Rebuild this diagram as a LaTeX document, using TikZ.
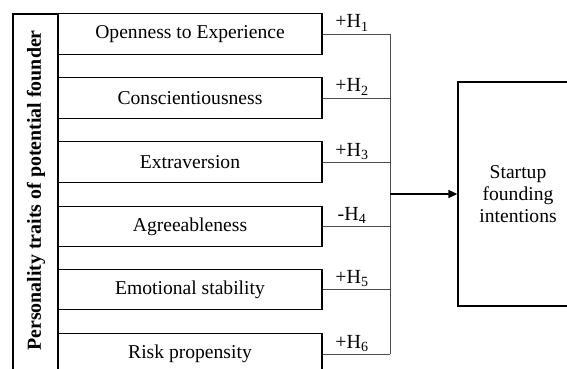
\documentclass[tikz,border=0pt]{standalone}
\usepackage{fontspec}
\setmainfont{Liberation Serif}
\usetikzlibrary{arrows.meta}
\begin{document}
\begin{tikzpicture}[x=1pt,y=-1pt,
  trait/.style={draw=black,line width=1.3pt,minimum width=264pt,minimum height=40.5pt,inner sep=0pt,
    font=\fontsize{19.6}{22}\selectfont},
  bus/.style={draw=black!70,line width=0.9pt},
  hyp/.style={font=\fontsize{20}{22}\selectfont,anchor=base,inner sep=0pt},
  outbox/.style={draw=black,line width=1.3pt,minimum width=120pt,minimum height=224pt,inner sep=0pt,
    align=center,font=\fontsize{19.6}{22}\selectfont},
  mainarrow/.style={draw=black,line width=1.5pt,-{Triangle[length=9pt,width=8pt]}}
]
\useasboundingbox (0,0) rectangle (567,369);
\clip (0,0) rectangle (567,369);
% frame for the vertical title
\draw[line width=1.3pt] (13,380) -- (13,14) -- (58,14) -- (58,380);
\node[rotate=90,inner sep=0pt,font=\fontsize{19.9}{22}\selectfont\bfseries] (title) at (36,190.5) {Personality traits of potential founder};
% trait boxes
\node[trait] (o1) at (190,34) {Openness to Experience};
\node[trait] (o2) at (190,98) {Conscientiousness};
\node[trait] (o3) at (190,162) {Extraversion};
\node[trait] (o4) at (190,226.5) {Agreeableness};
\node[trait] (o5) at (190,289.5) {Emotional stability};
\node[trait] (o6) at (190,354) {Risk propensity};
% outcome
\node[outbox] (sfi) at (518,194) {Startup\\founding\\intentions};
% bus coordinates
\foreach \i in {1,...,6}{
  \coordinate (j\i) at (390,0 |- o\i.east);
  \draw[bus] (o\i.east) -- (j\i);
}
\draw[bus] (j1) -- (j6);
\coordinate (jm) at (390,0 |- sfi.west);
\draw[mainarrow] (jm) -- (sfi.west);
% hypothesis labels
\node[hyp] (h1) at (352,28) {+H\textsubscript{1}};
\node[hyp] (h2) at (352,92) {+H\textsubscript{2}};
\node[hyp] (h3) at (352,156) {+H\textsubscript{3}};
\node[hyp] (h4) at (352,220.5) {-H\textsubscript{4}};
\node[hyp] (h5) at (352,283.5) {+H\textsubscript{5}};
\node[hyp] (h6) at (352,348) {+H\textsubscript{6}};
\end{tikzpicture}
\end{document}
